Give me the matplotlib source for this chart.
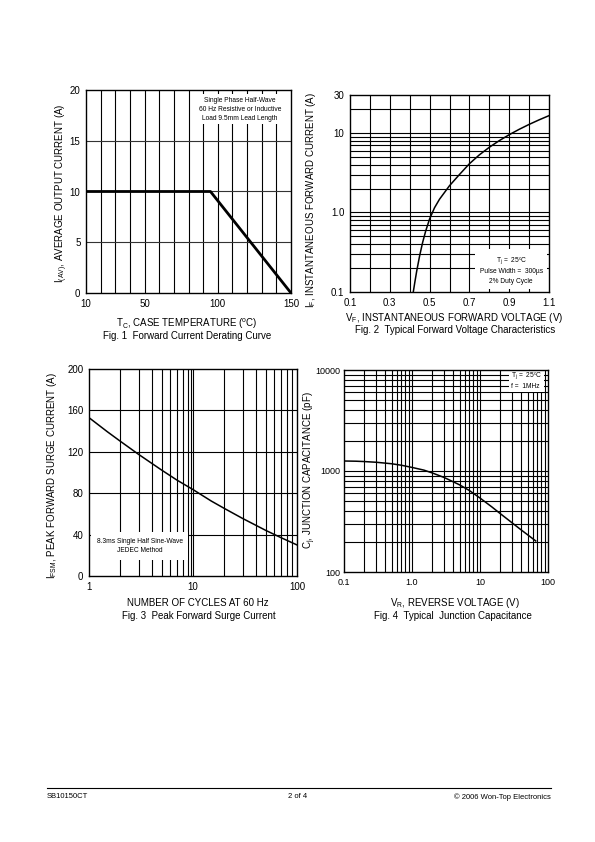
import numpy as np
import matplotlib
matplotlib.use("Agg")
from matplotlib import pyplot as plt
from matplotlib.ticker import FixedLocator, NullLocator, NullFormatter

plt.rcParams['font.family'] = ['Liberation Sans', 'DejaVu Sans']
plt.rcParams['mathtext.fontset'] = 'custom'
plt.rcParams['mathtext.rm'] = 'Liberation Sans'
plt.rcParams['mathtext.it'] = 'Liberation Sans'

# Fig. 1 derating curve
temp_c = [10, 95, 150]
i_av = [10, 10, 0]
fig1_xticks = [10, 50, 100, 150]
fig1_yticks = [0, 5, 10, 15, 20]

# Fig. 2 forward voltage characteristics
v_f = [0.418, 0.425, 0.435, 0.45, 0.465, 0.48, 0.50, 0.525, 0.55, 0.60, 0.65,
       0.70, 0.75, 0.80, 0.85, 0.90, 0.95, 1.00, 1.05, 1.10]
i_f = [0.10, 0.129, 0.182, 0.286, 0.42, 0.58, 0.83, 1.15, 1.47, 2.17, 3.0,
       4.1, 5.3, 6.6, 8.0, 9.5, 11.1, 12.8, 14.6, 16.5]
fig2_xticks = [0.1, 0.3, 0.5, 0.7, 0.9, 1.1]
fig2_yticks = [0.1, 1.0, 10, 30]
fig2_ylabels = ['0.1', '1.0', '10', '30']

# Fig. 3 peak forward surge current
cycles = [1, 1.5, 2, 3, 5, 7, 10, 15, 20, 30, 50, 70, 100]
i_fsm = [153, 139.4, 130.2, 117.5, 102.3, 92.7, 83.5, 72.4, 65.3, 55.6, 44.1, 37.1, 30]
fig3_yticks = [0, 40, 80, 120, 160, 200]

# Fig. 4 junction capacitance
v_r = [0.1, 0.15, 0.2, 0.3, 0.5, 0.7, 1.0, 1.5, 2, 3, 5, 7, 10, 15, 20, 30, 40, 50, 66]
c_j = [1256, 1250, 1240, 1220, 1180, 1140, 1085, 1020, 955, 860, 730, 640, 540,
       440, 377, 305, 262, 234, 203]
fig4_xticks = [0.1, 1.0, 10, 100]
fig4_xlabels = ['0.1', '1.0', '10', '100']
fig4_yticks = [100, 1000, 10000]

W, H = 595, 842
fig = plt.figure(figsize=(W / 100, H / 100), dpi=100)


def add_ax(left, top, right, bottom):
    return fig.add_axes([left / W, 1 - bottom / H, (right - left) / W, (bottom - top) / H])


def ptxt(x, y, s, **kw):
    kw.setdefault('ha', 'center')
    kw.setdefault('va', 'center')
    kw.setdefault('fontsize', 7)
    fig.text(x / W, 1 - y / H, s, **kw)


def style(ax, size=7):
    for sp in ax.spines.values():
        sp.set_linewidth(1.0)
        sp.set_zorder(5)
    ax.tick_params(which='both', length=0, labelsize=size, pad=4)
    ax.set_axisbelow(True)


# ---- Fig. 1
ax1 = add_ax(86, 90, 291, 293)
style(ax1)
ax1.set_xlim(10, 150)
ax1.set_ylim(0, 20)
ax1.set_xticks(fig1_xticks)
ax1.set_yticks(fig1_yticks)
for t in range(20, 150, 10):
    ax1.axvline(t, color='black', lw=0.8, zorder=1)
for v in [5, 10, 15]:
    ax1.axhline(v, color='#333333', lw=0.8, zorder=1)
ax1.plot(temp_c, i_av, color='black', lw=2.0, zorder=4)
ax1.text(0.75, 0.965, 'Single Phase Half-Wave\n60 Hz Resistive or Inductive\nLoad 9.5mm Lead Length',
         transform=ax1.transAxes, ha='center', va='top', fontsize=4.8, linespacing=1.35,
         multialignment='center', bbox=dict(facecolor='white', edgecolor='none', pad=2), zorder=3)
ptxt(62, 193, r'I$_{(AV)}$, AVERAGE OUTPUT CURRENT (A)', rotation=90)
ptxt(187, 324, r'T$_C$, CASE TEMPERATURE ($^o$C)')
ptxt(187, 336, 'Fig. 1  Forward Current Derating Curve')

# ---- Fig. 2
ax2 = add_ax(350, 95, 549, 292)
style(ax2)
ax2.set_yscale('log')
ax2.set_xlim(0.1, 1.1)
ax2.set_ylim(0.1, 30)
ax2.set_xticks(fig2_xticks)
ax2.set_xticklabels([f'{v:.1f}' for v in fig2_xticks])
ax2.yaxis.set_major_locator(FixedLocator(fig2_yticks))
ax2.set_yticklabels(fig2_ylabels)
ax2.yaxis.set_minor_locator(NullLocator())
ax2.yaxis.set_minor_formatter(NullFormatter())
for v in np.arange(0.2, 1.1, 0.1):
    ax2.axvline(v, color='black', lw=0.8, zorder=1)
for dec in [0.1, 1, 10]:
    for m in range(1, 10):
        y = dec * m
        if 0.1 < y < 30:
            ax2.axhline(y, color='black', lw=0.8, zorder=1)
ax2.plot(v_f, i_f, color='black', lw=1.1, zorder=4)
ax2.text(0.81, 0.112, 'T$_j$ =  25ºC\nPulse Width =  300µs\n2% Duty Cycle',
         transform=ax2.transAxes, ha='center', va='center', fontsize=4.8, linespacing=1.5,
         multialignment='center', bbox=dict(facecolor='white', edgecolor='none', pad=3), zorder=3)
ptxt(311, 200, r'I$_F$, INSTANTANEOUS FORWARD CURRENT (A)', rotation=90)
ptxt(454, 318, r'V$_F$, INSTANTANEOUS FORWARD VOLTAGE (V)')
ptxt(455, 330, 'Fig. 2  Typical Forward Voltage Characteristics')

# ---- Fig. 3
ax3 = add_ax(89, 369, 297, 576)
style(ax3)
ax3.set_xscale('log')
ax3.set_xlim(1, 100)
ax3.set_ylim(0, 200)
ax3.xaxis.set_major_locator(FixedLocator([1, 10, 100]))
ax3.set_xticklabels(['1', '10', '100'])
ax3.xaxis.set_minor_locator(NullLocator())
ax3.set_yticks(fig3_yticks)
for dec in [1, 10]:
    for m in range(2, 11):
        x = dec * m
        if x < 100:
            ax3.axvline(x, color='black', lw=0.8, zorder=1)
ax3.axvline(9.6, color='black', lw=0.8, zorder=1)
for v in [40, 80, 120, 160]:
    ax3.axhline(v, color='black', lw=0.8, zorder=1)
ax3.plot(cycles, i_fsm, color='black', lw=1.1, zorder=4)
ax3.text(0.245, 0.145, '8.3ms Single Half Sine-Wave\nJEDEC Method',
         transform=ax3.transAxes, ha='center', va='center', fontsize=4.8, linespacing=1.4,
         multialignment='center', bbox=dict(facecolor='white', edgecolor='none', pad=4), zorder=3)
ptxt(52, 476, r'I$_{FSM}$, PEAK FORWARD SURGE CURRENT (A)', rotation=90)
ptxt(198, 603, 'NUMBER OF CYCLES AT 60 Hz')
ptxt(199, 616, 'Fig. 3  Peak Forward Surge Current')

# ---- Fig. 4
ax4 = add_ax(344, 370, 548, 572)
style(ax4, size=6.5)
ax4.set_xscale('log')
ax4.set_yscale('log')
ax4.set_xlim(0.1, 100)
ax4.set_ylim(100, 10000)
ax4.xaxis.set_major_locator(FixedLocator(fig4_xticks))
ax4.set_xticklabels(fig4_xlabels)
ax4.yaxis.set_major_locator(FixedLocator(fig4_yticks))
ax4.set_yticklabels([str(v) for v in fig4_yticks])
for a in [ax4.xaxis, ax4.yaxis]:
    a.set_minor_locator(NullLocator())
    a.set_minor_formatter(NullFormatter())
ax4.tick_params(axis='y', pad=3)
for dec in [0.1, 1, 10]:
    for m in range(1, 10):
        x = dec * m
        if 0.1 < x < 100:
            ax4.axvline(x, color='black', lw=0.8, zorder=1)
for dec in [100, 1000]:
    for m in range(1, 10):
        y = dec * m
        if 100 < y < 10000:
            ax4.axhline(y, color='black', lw=0.8, zorder=1)
ax4.plot(v_r, c_j, color='black', lw=1.1, zorder=4)
ax4.text(0.82, 0.95, 'T$_j$ =  25ºC\nf =  1MHz',
         transform=ax4.transAxes, ha='left', va='center', fontsize=4.8, linespacing=1.3,
         bbox=dict(facecolor='white', edgecolor='none', pad=1.5), zorder=3)
ptxt(310, 470, r'C$_j$, JUNCTION CAPACITANCE (pF)', rotation=90)
ptxt(455, 603, r'V$_R$, REVERSE VOLTAGE (V)')
ptxt(453, 616, 'Fig. 4  Typical  Junction Capacitance')

# ---- footer
fig.add_artist(plt.Line2D([47 / W, 551 / W], [1 - 788 / H, 1 - 788 / H], color='black', lw=0.8))
ptxt(47, 797, 'SB10150CT', ha='left', fontsize=5.5)
ptxt(298, 797, '2 of 4', fontsize=5.5)
ptxt(551, 797, '© 2006 Won-Top Electronics', ha='right', fontsize=5.5)

fig.savefig('out.png', dpi=100)
